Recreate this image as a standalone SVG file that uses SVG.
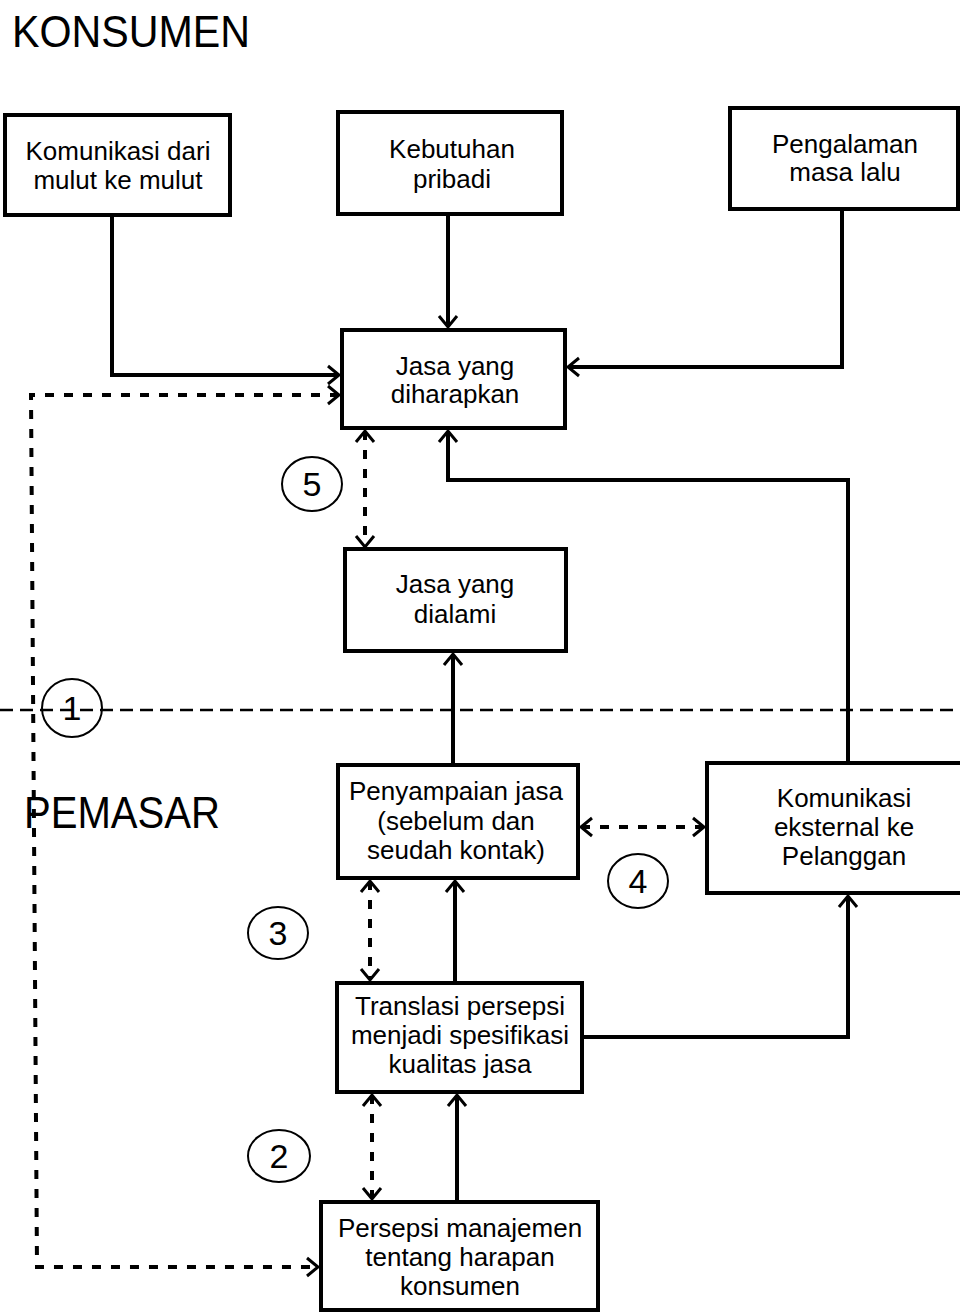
<svg xmlns="http://www.w3.org/2000/svg" width="960" height="1313" viewBox="0 0 960 1313">
<defs>
<style>
.box{fill:#fff;stroke:#000;stroke-width:4}
.t{font-family:"Liberation Sans",Arial,sans-serif;font-size:26px;fill:#000;text-anchor:middle}
.title{font-family:"Liberation Sans",Arial,sans-serif;font-size:44px;fill:#000}
.num{font-family:"Liberation Sans",Arial,sans-serif;font-size:34px;fill:#000;text-anchor:middle}
.circ{fill:none;stroke:#000;stroke-width:2}
.solid{fill:none;stroke:#000;stroke-width:4}
.dash{fill:none;stroke:#000;stroke-width:4;stroke-dasharray:9 10}
.divider{fill:none;stroke:#000;stroke-width:2.5;stroke-dasharray:13 7}
.head{fill:none;stroke:#000;stroke-width:3;stroke-dasharray:none}
</style>
<marker id="arr" markerUnits="userSpaceOnUse" markerWidth="24" markerHeight="24" refX="12" refY="12" orient="auto-start-reverse" overflow="visible">
<path class="head" d="M1,3 L12,12 L1,21"/>
</marker>
</defs>
<rect width="960" height="1313" fill="#fff"/>

<text class="title" x="12" y="47" textLength="238" lengthAdjust="spacingAndGlyphs">KONSUMEN</text>
<text class="title" x="24" y="828" textLength="196" lengthAdjust="spacingAndGlyphs">PEMASAR</text>

<path class="divider" d="M0,710 H960"/>

<g id="connectors">
<path class="solid" d="M112,215 V375 H339" marker-end="url(#arr)"/>
<path class="solid" d="M448,214 V327" marker-end="url(#arr)"/>
<path class="solid" d="M842,209 V367 H568" marker-end="url(#arr)"/>
<path class="solid" d="M848,763 V480 H448 V431" marker-end="url(#arr)"/>
<path class="solid" d="M453,765 V654" marker-end="url(#arr)"/>
<path class="solid" d="M455,983 V881" marker-end="url(#arr)"/>
<path class="solid" d="M582,1037 H848 V896" marker-end="url(#arr)"/>
<path class="solid" d="M457,1202 V1095" marker-end="url(#arr)"/>
<path class="dash" d="M339,395 H31 L37,1267 H318" marker-start="url(#arr)" marker-end="url(#arr)"/>
<path class="dash" d="M365,431 V547" marker-start="url(#arr)" marker-end="url(#arr)"/>
<path class="dash" d="M581,827 H704" marker-start="url(#arr)" marker-end="url(#arr)"/>
<path class="dash" d="M370,881 V980" marker-start="url(#arr)" marker-end="url(#arr)"/>
<path class="dash" d="M372,1095 V1199" marker-start="url(#arr)" marker-end="url(#arr)"/>
</g>

<g id="n1"><rect class="box" x="5" y="115" width="225" height="100"/>
<text class="t" x="118" y="160">Komunikasi dari</text><text class="t" x="118" y="189">mulut ke mulut</text></g>
<g id="n2"><rect class="box" x="338" y="112" width="224" height="102"/>
<text class="t" x="452" y="158">Kebutuhan</text><text class="t" x="452" y="188">pribadi</text></g>
<g id="n3"><rect class="box" x="730" y="108" width="228" height="101"/>
<text class="t" x="845" y="153">Pengalaman</text><text class="t" x="845" y="181">masa lalu</text></g>
<g id="n4"><rect class="box" x="342" y="330" width="223" height="98"/>
<text class="t" x="455" y="375">Jasa yang</text><text class="t" x="455" y="403">diharapkan</text></g>
<g id="n5"><rect class="box" x="345" y="549" width="221" height="102"/>
<text class="t" x="455" y="593">Jasa yang</text><text class="t" x="455" y="623">dialami</text></g>
<g id="n6"><rect class="box" x="338" y="765" width="240" height="113"/>
<text class="t" x="456" y="800">Penyampaian jasa</text><text class="t" x="456" y="830">(sebelum dan</text><text class="t" x="456" y="859">seudah kontak)</text></g>
<g id="n7"><rect class="box" x="707" y="763" width="260" height="130"/>
<text class="t" x="844" y="807">Komunikasi</text><text class="t" x="844" y="836">eksternal ke</text><text class="t" x="844" y="865">Pelanggan</text></g>
<g id="n8"><rect class="box" x="337" y="983" width="245" height="109"/>
<text class="t" x="460" y="1015">Translasi persepsi</text><text class="t" x="460" y="1044">menjadi spesifikasi</text><text class="t" x="460" y="1073">kualitas jasa</text></g>
<g id="n9"><rect class="box" x="321" y="1202" width="277" height="108"/>
<text class="t" x="460" y="1237">Persepsi manajemen</text><text class="t" x="460" y="1266">tentang harapan</text><text class="t" x="460" y="1295">konsumen</text></g>

<g id="c1"><ellipse class="circ" cx="72" cy="708" rx="30" ry="29"/><text class="num" x="72" y="720">1</text></g>
<g id="c5"><ellipse class="circ" cx="312" cy="484" rx="30" ry="27"/><text class="num" x="312" y="496">5</text></g>
<g id="c4"><ellipse class="circ" cx="638" cy="881" rx="30" ry="27"/><text class="num" x="638" y="893">4</text></g>
<g id="c3"><ellipse class="circ" cx="278" cy="933" rx="30" ry="26"/><text class="num" x="278" y="945">3</text></g>
<g id="c2"><ellipse class="circ" cx="279" cy="1156" rx="31" ry="26"/><text class="num" x="279" y="1168">2</text></g>
</svg>
